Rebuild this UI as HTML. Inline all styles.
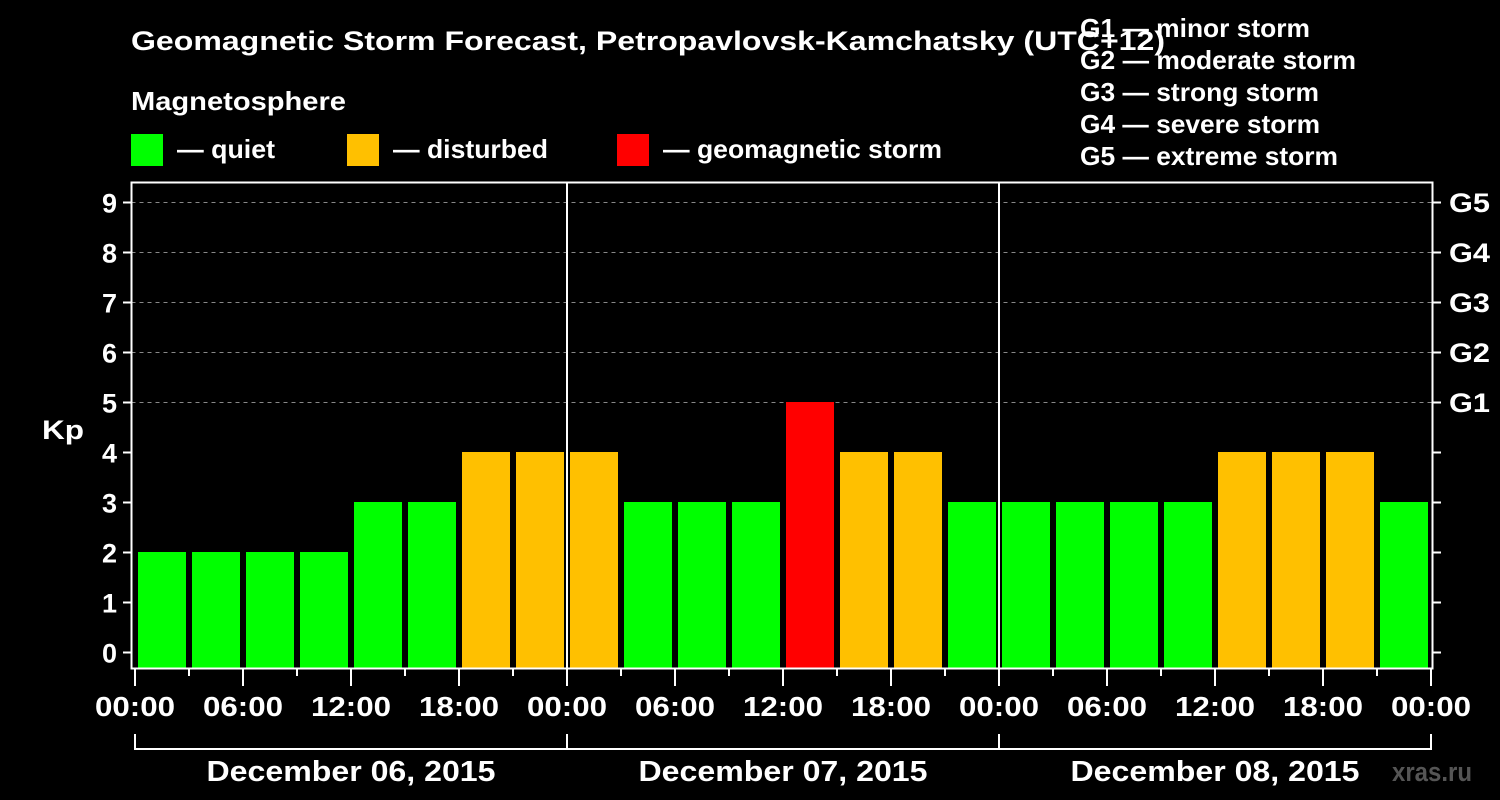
<!DOCTYPE html>
<html><head><meta charset="utf-8"><style>
html,body{margin:0;padding:0;background:#000;}
svg{display:block;font-family:"Liberation Sans",Arial,sans-serif;font-weight:bold;}
</style></head><body>
<svg id="chart" width="1500" height="800" viewBox="0 0 1500 800">
<rect width="1500" height="800" fill="#000"/>
<text x="131" y="50" fill="#fff" font-size="27" textLength="1034" lengthAdjust="spacingAndGlyphs">Geomagnetic Storm Forecast, Petropavlovsk-Kamchatsky (UTC+12)</text>
<g fill="#fff" font-size="26">
<text x="1080" y="37" textLength="230" lengthAdjust="spacingAndGlyphs">G1 — minor storm</text>
<text x="1080" y="69" textLength="276" lengthAdjust="spacingAndGlyphs">G2 — moderate storm</text>
<text x="1080" y="101" textLength="239" lengthAdjust="spacingAndGlyphs">G3 — strong storm</text>
<text x="1080" y="133" textLength="240" lengthAdjust="spacingAndGlyphs">G4 — severe storm</text>
<text x="1080" y="165" textLength="258" lengthAdjust="spacingAndGlyphs">G5 — extreme storm</text>
</g>
<text x="131" y="110" fill="#fff" font-size="26" textLength="215" lengthAdjust="spacingAndGlyphs">Magnetosphere</text>
<g font-size="26" fill="#fff">
<rect x="131" y="134" width="32" height="32" fill="#00ff00"/>
<text x="177" y="158" textLength="98" lengthAdjust="spacingAndGlyphs">— quiet</text>
<rect x="347" y="134" width="32" height="32" fill="#ffc000"/>
<text x="393" y="158" textLength="155" lengthAdjust="spacingAndGlyphs">— disturbed</text>
<rect x="617" y="134" width="32" height="32" fill="#ff0000"/>
<text x="663" y="158" textLength="279" lengthAdjust="spacingAndGlyphs">— geomagnetic storm</text>
</g>
<text x="42" y="439" fill="#fff" font-size="27" textLength="42" lengthAdjust="spacingAndGlyphs">Kp</text>
<text x="1392" y="781" fill="#555" font-size="27" textLength="80" lengthAdjust="spacingAndGlyphs">xras.ru</text>
<g id="plot"></g>
</svg>
<script>
const days = ["December 06, 2015","December 07, 2015","December 08, 2015"];
const kpValues = [2,2,2,2,3,3,4,4, 4,3,3,3,5,4,4,3, 3,3,3,3,4,4,4,3];
const yTicks = [0,1,2,3,4,5,6,7,8,9];
const gLabels = ["G1","G2","G3","G4","G5"];
const gLevels = [5,6,7,8,9];
const hourLabels = ["00:00","06:00","12:00","18:00"];

const NS="http://www.w3.org/2000/svg";
const plot=document.getElementById('plot');
const L=131.5,R=1432.5,T=182.5,B=668.5;
const x0=135, dayW=432, slotW=dayW/8;
const xPos=i=>x0+i*slotW;
const yPos=v=>652-50*v;
function mk(tag,attrs,parent){const e=document.createElementNS(NS,tag);for(const k in attrs)e.setAttribute(k,attrs[k]);(parent||plot).appendChild(e);return e;}
function color(v){return v>=5?"#ff0000":(v>=4?"#ffc000":"#00ff00");}

gLevels.forEach(v=>{
  const l=mk('line',{x1:L,x2:R,y1:yPos(v)+0.5,y2:yPos(v)+0.5,stroke:'#888','stroke-dasharray':'4,4','stroke-width':1});
  
  
});
kpValues.forEach((v,i)=>{
  const r=mk('rect',{x:xPos(i)+3,y:yPos(v),width:48,height:668-yPos(v),fill:color(v)});
  
  
});
const fr=mk('rect',{x:L,y:T,width:R-L,height:B-T,fill:'none',stroke:'#fff','stroke-width':2});


for(let d=1;d<days.length;d++){
  const s=mk('line',{x1:x0+d*dayW,x2:x0+d*dayW,y1:T,y2:B,stroke:'#fff','stroke-width':2});
  
  
}
yTicks.forEach(v=>{
  const y=yPos(v)+0.5;
  const t=mk('line',{x1:123,x2:L,y1:y,y2:y,stroke:'#fff','stroke-width':2});
  
  
  const t2=mk('line',{x1:R,x2:1441,y1:y,y2:y,stroke:'#fff','stroke-width':2});
  
  
  const tx=mk('text',{x:117,y:y+10,fill:'#fff','font-size':27,'text-anchor':'end'});
  tx.textContent=v;
  
  
});
gLabels.forEach((g,i)=>{
  const tx=mk('text',{x:1449,y:yPos(gLevels[i])+10,fill:'#fff','font-size':27,textLength:41,lengthAdjust:'spacingAndGlyphs'});
  tx.textContent=g;
  
  
});
for(let i=0;i<=days.length*8;i++){
  const x=xPos(i);
  const major=i%2===0;
  const t=mk('line',{x1:x,x2:x,y1:B,y2:major?686:676,stroke:'#fff','stroke-width':2});
  
  
  if(major){
    const tx=mk('text',{x:x,y:716,fill:'#fff','font-size':28,'text-anchor':'middle',textLength:80,lengthAdjust:'spacingAndGlyphs'});
    tx.textContent=hourLabels[(i/2)%4];
    
    
  }
}
days.forEach((d,i)=>{
  const xa=x0+i*dayW;
  const br=mk('path',{d:`M${xa} 734 V749 H${xa+dayW} V734`,fill:'none',stroke:'#fff','stroke-width':2});
  
  
  const tx=mk('text',{x:xa+dayW/2,y:781,fill:'#fff','font-size':29,'text-anchor':'middle',textLength:289,lengthAdjust:'spacingAndGlyphs'});
  tx.textContent=d;
  
  
});
</script>
</body></html>
